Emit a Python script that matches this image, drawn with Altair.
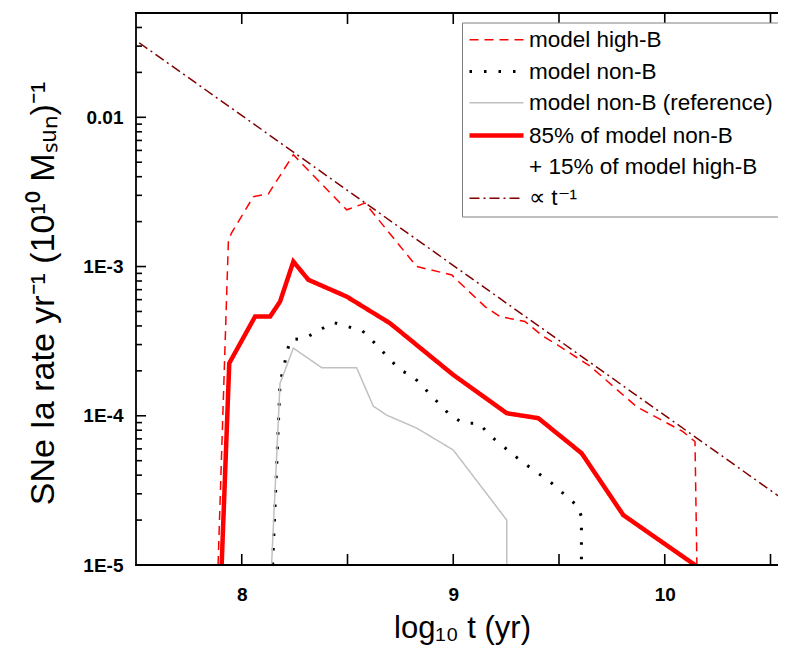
import altair as alt
import pandas as pd

# ---------------- data ----------------
NAMES = [
    "model high-B",
    "model non-B",
    "model non-B (reference)",
    "85% of model non-B",
    "+ 15% of model high-B",
    "\u221d t\u207b\u00b9",
]

HIGHB_X = [7.888, 7.937, 7.952, 8.055, 8.126, 8.244, 8.496, 8.583, 8.827, 8.993, 9.008,
           9.150, 9.221, 9.339, 9.426, 9.505, 9.647, 9.867, 10.086, 10.143, 10.152]
HIGHB_Y = [1e-5, 1.51e-3, 1.68e-3, 2.94e-3, 3.07e-3, 5.61e-3, 2.40e-3, 2.66e-3, 1.0e-3, 8.79e-4, 8.36e-4,
           5.39e-4, 4.62e-4, 4.28e-4, 3.40e-4, 2.91e-4, 2.15e-4, 1.15e-4, 7.83e-5, 6.72e-5, 1e-5]

NONB_X = [8.146, 8.181, 8.228, 8.299, 8.433, 8.570, 8.622, 8.748, 8.811, 8.922, 8.985,
          9.048, 9.119, 9.189, 9.324, 9.457, 9.591, 9.606, 9.606]
NONB_Y = [1e-5, 1.65e-4, 3.23e-4, 3.31e-4, 4.22e-4, 3.71e-4, 3.14e-4, 2.03e-4, 1.83e-4, 1.25e-4, 1.01e-4,
          8.91e-5, 8.91e-5, 7.08e-5, 4.93e-5, 3.62e-5, 2.46e-5, 2.1e-5, 1e-5]

REF_X = [8.141, 8.181, 8.244, 8.378, 8.543, 8.622, 8.685, 8.827, 9.0, 9.253, 9.253]
REF_Y = [1e-5, 1.65e-4, 2.84e-4, 2.10e-4, 2.10e-4, 1.16e-4, 1.01e-4, 8.27e-5, 5.90e-5, 2.0e-5, 1e-5]

MIX_X = [7.905, 7.941, 8.063, 8.134, 8.181, 8.244, 8.315, 8.496, 8.701, 9.0, 9.253, 9.402,
         9.607, 9.804, 10.143]
MIX_Y = [1e-5, 2.25e-4, 4.62e-4, 4.62e-4, 5.82e-4, 1.08e-3, 8.15e-4, 6.29e-4, 4.17e-4, 1.88e-4,
         1.04e-4, 9.64e-5, 5.61e-5, 2.16e-5, 1e-5]

TINV_X = [7.515, 10.6]
TINV_Y = [0.0316, 2.51e-5]

X_LABELS = [8, 9, 10]
X_TICKS = [8.0, 8.5, 9.0, 9.5, 10.0, 10.5]
Y_MAJOR = [1e-5, 1e-4, 1e-3, 1e-2]
Y_LABELS = ["1E-5", "1E-4", "1E-3", "0.01"]
Y_MINOR = [2e-5, 3e-5, 4e-5, 5e-5, 6e-5, 7e-5, 8e-5, 9e-5,
           2e-4, 3e-4, 4e-4, 5e-4, 6e-4, 7e-4, 8e-4, 9e-4,
           2e-3, 3e-3, 4e-3, 5e-3, 6e-3, 7e-3, 8e-3, 9e-3,
           2e-2, 3e-2, 4e-2]

COLORS = ["#ff0000", "#000000", "#c0c0c0", "#ff0000", "transparent", "#800000"]
DASHES = [[9, 6], [2.5, 12], [1, 0], [1, 0], [1, 0], [10, 4, 2, 4]]
WIDTHS = [1.5, 3, 1.5, 4.5, 1, 1.5]

series = [
    (NAMES[0], HIGHB_X, HIGHB_Y),
    (NAMES[1], NONB_X, NONB_Y),
    (NAMES[2], REF_X, REF_Y),
    (NAMES[3], MIX_X, MIX_Y),
    (NAMES[5], TINV_X, TINV_Y),
]
rows = []
for name, xs, ys in series:
    for i, (x, y) in enumerate(zip(xs, ys)):
        rows.append({"series": name, "t": x, "rate": y, "i": i})
df = pd.DataFrame(rows)

xt_df = pd.DataFrame({"t": X_TICKS})
ymaj_df = pd.DataFrame({"rate": Y_MAJOR})
ymin_df = pd.DataFrame({"rate": Y_MINOR})
one_df = pd.DataFrame({"k": [0]})

# ---------------- layout ----------------
# plot area: 211.5 px per unit in x; right part of the frame is cut by the page edge
W, H = 642, 552
X_MIN, X_MAX = 7.5, 7.5 + W / 211.5
FONT = "Liberation Sans, Arial, Helvetica, sans-serif"
MAJ, MIN, XT = 10, 6, 11
LW = 1.8

xscale = alt.Scale(domain=[X_MIN, X_MAX], nice=False, zero=False)
yscale = alt.Scale(type="log", domain=[1e-5, 0.05], nice=False)

label_expr = " : ".join(
    f"datum.value == {v!r} ? '{l}'" for v, l in zip(Y_MAJOR, Y_LABELS)
) + " : ''"

legend = alt.Legend(
    title=None,
    orient="none",
    legendX=326,
    legendY=9.5,
    padding=6,
    strokeColor="#808080",
    fillColor="white",
    labelFont=FONT,
    labelFontSize=22.5,
    labelColor="black",
    labelLimit=500,
    rowPadding=8.5,
    symbolType="M-2.7,0H2.7",
    symbolSize=400,
    symbolOffset=16,
    labelOffset=20,
)

lines = alt.Chart(df).mark_line(clip=True).encode(
    x=alt.X(
        "t:Q",
        scale=xscale,
        axis=alt.Axis(
            orient="bottom", values=X_LABELS, format="d", ticks=False, tickSize=0,
            domain=False, grid=False,
            labelFont=FONT, labelFontSize=19, labelFontWeight="bold", labelColor="black",
            labelPadding=20, labelBaseline="top",
            title="log\u2081\u2080 t (yr)", titleFont=FONT, titleFontSize=31,
            titleFontWeight="normal", titleColor="black",
            titleX=326, titleY=72, titleAlign="center", titleBaseline="alphabetic",
        ),
    ),
    y=alt.Y(
        "rate:Q",
        scale=yscale,
        axis=alt.Axis(
            orient="left", values=Y_MAJOR, labelExpr=label_expr, ticks=False, tickSize=0,
            domain=False, grid=False,
            labelFont=FONT, labelFontSize=19, labelFontWeight="bold", labelColor="black",
            labelPadding=13,
            title="SNe Ia rate yr\u207b\u00b9 (10\u00b9\u2070 M\u209b\u1d64\u2099)\u207b\u00b9",
            titleFont=FONT, titleFontSize=34, titleFontWeight="normal", titleColor="black",
            titleX=-93, titleY=280, titleAngle=270, titleAlign="center", titleBaseline="middle",
        ),
    ),
    color=alt.Color("series:N", scale=alt.Scale(type="ordinal", domain=NAMES, range=COLORS), legend=legend),
    strokeDash=alt.StrokeDash("series:N", scale=alt.Scale(type="ordinal", domain=NAMES, range=DASHES), legend=legend),
    strokeWidth=alt.StrokeWidth("series:N", scale=alt.Scale(type="ordinal", domain=NAMES, range=WIDTHS), legend=legend),
    order="i:Q",
)

tick_style = dict(color="black", strokeWidth=1.6)
xq = alt.X("t:Q", scale=xscale, axis=None)
yq = alt.Y("rate:Q", scale=yscale, axis=None)

x_bottom = alt.Chart(xt_df).mark_rule(**tick_style).encode(x=xq, y=alt.value(H), y2=alt.value(H - XT))
x_top = alt.Chart(xt_df).mark_rule(**tick_style).encode(x=xq, y=alt.value(0), y2=alt.value(XT))
y_left_maj = alt.Chart(ymaj_df).mark_rule(**tick_style).encode(y=yq, x=alt.value(0), x2=alt.value(MAJ))
y_left_min = alt.Chart(ymin_df).mark_rule(**tick_style).encode(y=yq, x=alt.value(0), x2=alt.value(MIN))

frame_style = dict(color="black", strokeWidth=LW, strokeCap="square")
f_left = alt.Chart(one_df).mark_rule(**frame_style).encode(x=alt.value(0), y=alt.value(0), y2=alt.value(H))
f_top = alt.Chart(one_df).mark_rule(**frame_style).encode(y=alt.value(0), x=alt.value(0), x2=alt.value(W + 10))
f_bottom = alt.Chart(one_df).mark_rule(**frame_style).encode(y=alt.value(H), x=alt.value(0), x2=alt.value(W + 10))

chart = (
    alt.layer(lines, x_bottom, x_top, y_left_maj, y_left_min, f_left, f_top, f_bottom)
    .resolve_axis(x="independent", y="independent")
    .properties(
        width=W,
        height=H,
        autosize=alt.AutoSizeParams(type="none"),
        padding={"left": 128, "top": 5, "right": 0, "bottom": 83},
        background="white",
    )
    .configure_view(strokeWidth=0, strokeOpacity=0)
)

chart.save("out.html", embed_options={"renderer": "svg", "actions": False})
